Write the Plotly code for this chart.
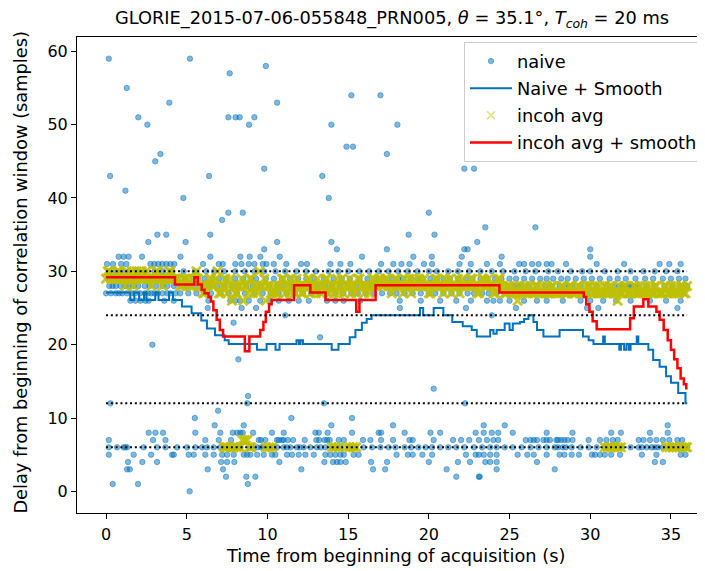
import plotly.graph_objects as go

# ---------------- data ----------------
# naive estimates: delay (samples) -> list of times (s)
naive_by_delay = {
    59: [0.17, 5.2],
    58: [9.9],
    57: [7.66],
    55: [1.28],
    54: [15.2, 17.0],
    53: [3.92, 10.6],
    51: [2.0, 7.58, 8.03, 8.28, 9.19],
    50: [2.56, 8.86, 13.96, 18.05],
    47: [14.9, 15.3],
    46: [3.37, 17.4],
    45: [3.05],
    44: [9.8, 22.2, 22.8],
    43: [0.25, 6.38, 13.4],
    41: [1.2],
    40: [4.79, 13.8],
    38: [7.58, 8.47, 20.0],
    37: [7.19],
    36: [23.5, 26.6],
    35: [3.18, 3.73, 6.46, 18.75, 20.35],
    34: [2.62, 4.93, 10.6, 13.96, 23.0],
    33: [9.8, 14.3, 17.4, 22.2, 22.4, 30.0],
    32: [0.78, 1.09, 1.40, 2.23, 4.61, 6.46, 8.32, 8.90, 9.56, 10.76, 15.86,
         19.04, 20.18, 22.04, 24.51, 30.0],
    31: [0.06, 0.43, 0.93, 1.26, 2.75, 2.99, 3.24, 3.49, 3.74, 3.99, 4.23, 6.01,
         6.98, 7.23, 8.01, 8.39, 8.84, 9.19, 9.71, 9.94, 10.39, 11.17, 12.08,
         12.45, 13.9, 14.52, 15.14, 17.04, 17.8, 18.3, 18.8, 19.7, 20.2, 21.9,
         22.6, 23.6, 24.4, 25.6, 25.9, 26.4, 26.8, 27.3, 27.6, 28.5, 30.4,
         32.1, 34.3, 34.9, 35.6],
    30: [0.2, 0.6, 1.0, 1.4, 1.9, 2.4, 3.0, 3.5, 4.1, 4.8, 5.5, 6.2, 6.7, 7.3,
         8.0, 8.6, 9.2, 9.8, 10.5, 11.1, 11.8, 12.4, 13.0, 13.8, 14.4, 15.0,
         15.7, 16.3, 16.9, 17.5, 18.1, 18.7, 19.3, 20.0, 20.5, 21.2, 21.8, 22.5,
         23.2, 23.9, 24.6, 25.3, 26.0, 26.6, 27.4, 28.0, 28.8, 29.5, 30.0, 30.9,
         31.7, 32.5, 33.3, 34.0, 34.7, 35.4],
    29: [0.1, 0.5, 0.8, 1.1, 1.5, 1.9, 2.2, 2.6, 2.9, 3.3, 3.6, 4.0, 4.4, 4.9,
         5.4, 5.7, 6.1, 6.6, 7.0, 7.4, 8.0, 8.5, 9.0, 9.3, 9.9, 10.4, 10.9, 11.4,
         11.9, 12.4, 12.9, 13.5, 14.1, 14.6, 15.1, 15.7, 16.2, 16.7, 17.2, 17.7,
         18.1, 18.4, 18.9, 19.3, 19.6, 20.1, 20.5, 20.9, 21.3, 21.8, 22.3, 22.7,
         23.2, 23.6, 24.1, 24.5, 25.0, 25.4, 25.9, 26.4, 26.9, 27.3, 27.7, 28.2,
         28.6, 29.1, 29.6, 30.1, 30.6, 31.2, 31.7, 32.2, 32.8, 33.4, 33.9, 34.5,
         35.0, 35.5, 35.9],
    28: [0.2, 0.4, 0.6, 0.9, 1.2, 1.4, 1.7, 2.0, 2.4, 2.7, 3.1, 3.5, 3.8, 4.2,
         4.6, 5.0, 5.5, 6.0, 6.4, 6.9, 7.3, 7.8, 8.2, 8.7, 9.1, 9.6, 10.1, 10.6,
         11.0, 11.5, 12.0, 12.6, 13.1, 13.6, 14.0, 14.5, 15.0, 15.5, 16.0, 16.5,
         17.0, 17.4, 17.9, 18.3, 18.7, 19.2, 19.7, 20.2, 20.6, 21.0, 21.5, 22.0,
         22.4, 22.9, 23.4, 23.9, 24.4, 24.9, 25.3, 25.5, 25.7, 26.2, 26.7, 27.2,
         27.6, 28.1, 28.5, 28.7, 28.9, 29.4, 29.9, 30.4, 31.0, 31.5, 31.8, 32.0,
         32.2, 32.4, 32.6, 32.8, 33.0, 33.5, 34.0, 34.6, 35.1, 35.6, 36.0],
    27: [0.0, 0.3, 0.6, 0.8, 1.0, 1.3, 1.6, 1.8, 2.1, 2.4, 2.6, 2.8, 3.0, 3.2,
         3.5, 3.8, 4.0, 4.3, 4.6, 5.1, 5.6, 6.1, 6.5, 7.1, 7.6, 8.1, 8.6, 9.2,
         9.7, 10.2, 10.7, 11.2, 11.7, 12.2, 12.7, 13.2, 13.7, 14.2, 14.7, 15.2,
         15.6, 16.1, 16.6, 17.1, 17.6, 18.0, 18.5, 19.0, 19.5, 20.0, 20.4, 20.9,
         21.4, 21.9, 22.4, 22.8, 23.3, 23.7, 24.2, 24.7, 25.1, 25.6, 26.0, 26.5,
         27.0, 27.5, 27.9, 28.4, 28.8, 29.3, 29.8, 30.3, 30.8, 31.3, 31.9, 32.4,
         32.9, 33.4, 33.9, 34.4, 34.9, 35.4, 35.8],
    26: [1.51, 1.82, 2.13, 2.44, 2.64, 3.61, 4.19, 6.34, 7.70, 8.01, 8.32, 8.84,
         9.56, 10.18, 10.70, 11.32, 11.94, 12.56, 13.69, 14.21, 14.72, 15.76,
         18.2, 19.5, 20.7, 21.7, 22.6, 23.6, 24.0, 24.4, 25.0, 25.9, 26.7, 27.3,
         28.3, 29.4, 30.0, 30.8, 31.6, 32.5, 33.7, 34.7, 35.6],
    25: [6.3, 8.4, 9.3, 18.2, 22.3, 25.4, 29.8, 30.5, 35.4],
    24: [11.1, 23.9],
    23: [7.9],
    21: [13.26],
    20: [2.87],
    18: [8.2],
    14: [20.3],
    13: [8.8],
    12: [0.28, 8.75, 13.5, 22.25],
    11: [6.94],
    10: [5.5, 11.48, 15.24],
    9: [6.73, 8.53, 13.96, 17.78, 23.4, 24.7, 34.8],
    8: [2.64, 3.06, 3.53, 5.53, 7.08, 7.85, 8.12, 8.32, 8.47, 9.11, 10.28, 11.01,
        12.97, 13.18, 13.73, 15.24, 16.89, 17.04, 18.5, 20.1, 20.7, 22.9, 23.4,
        23.9, 24.3, 25.2, 27.3, 28.9, 31.3, 31.9, 33.7, 34.8],
    7: [0.17, 2.91, 3.68, 6.15, 6.98, 7.74, 9.46, 9.6, 9.87, 10.59, 10.7, 10.90,
        11.0, 11.26, 11.59, 12.31, 13.03, 13.2, 13.53, 13.7, 13.86, 14.42, 14.73,
        15.92, 16.38, 17.04, 17.78, 18.8, 19.0, 20.3, 21.5, 22.0, 22.5, 23.1,
        23.6, 24.0, 24.3, 26.0, 26.3, 26.5, 26.7, 27.1, 27.3, 27.5, 27.9, 28.0,
        28.2, 28.4, 28.6, 28.9, 29.9, 30.6, 31.0, 31.4, 31.7, 33.0, 33.3, 33.7,
        34.1, 34.5, 34.9, 35.4, 35.7],
    6: [0.17, 0.68, 1.09, 1.2, 1.30, 2.33, 3.16, 3.68, 4.40, 5.02, 5.53, 5.95,
        6.26, 6.67, 7.08, 7.50, 8.01, 8.32, 8.94, 9.0, 9.36, 9.6, 9.77, 10.18,
        10.4, 10.59, 11.01, 11.2, 11.42, 11.83, 12.0, 12.25, 12.66, 13.07, 13.3,
        13.59, 14.00, 14.2, 14.52, 15.03, 15.2, 15.45, 15.96, 16.48, 17.0, 17.51,
        17.93, 18.5, 18.9, 19.35, 19.8, 20.2, 20.7, 21.2, 21.7, 22.2, 22.8, 23.3,
        23.8, 24.2, 24.7, 25.2, 25.75, 26.3, 26.8, 27.3, 27.8, 28.0, 28.3, 28.5,
        28.85, 29.4, 29.9, 30.4, 30.9, 31.4, 31.95, 32.5, 33.0, 33.2, 33.5, 33.8,
        34.0, 34.2, 34.5, 35.05, 35.3, 35.6, 36.0],
    5: [0.17, 1.71, 2.79, 4.09, 4.2, 5.12, 5.43, 6.15, 6.67, 7.19, 7.5, 7.91,
        8.53, 8.74, 8.94, 9.36, 9.77, 10.28, 10.49, 11.21, 11.52, 11.94, 12.35,
        12.87, 13.59, 13.90, 14.21, 14.52, 14.73, 15.34, 15.65, 18.0, 18.7, 19.0,
        19.6, 20.2, 22.3, 22.9, 23.1, 23.4, 23.8, 24.2, 25.5, 26.1, 26.5, 27.3,
        28.1, 28.4, 28.85, 29.3, 30.1, 30.3, 30.6, 30.9, 31.3, 31.85, 33.2, 34.1,
        35.6, 35.9],
    4: [1.36, 2.25, 3.16, 7.13, 7.5, 7.95, 10.74, 13.53, 14.06, 14.31, 14.52,
        14.85, 16.42, 17.41, 20.0, 21.8, 22.55, 23.5, 23.8, 24.2, 26.7, 34.0,
        34.5],
    3: [1.30, 1.47, 6.30, 7.25, 12.10, 16.54, 17.29, 21.1, 24.2, 27.8],
    2: [7.43, 8.69, 9.25, 21.7, 23.1, 23.15],
    1: [0.41, 1.98, 8.78],
    0: [5.18],
}

# Naive + Smooth (step function: time where level starts, level)
naive_smooth_t = [0.0, 1.5, 1.75, 2.05, 2.35, 2.5, 3.05, 3.25, 3.9, 4.15, 4.7,
                  5.3, 5.9, 6.25, 6.75, 7.35, 7.6, 9.35, 9.95, 10.5, 10.75,
                  11.8, 11.95, 12.05, 12.2, 13.98, 14.4, 15.1, 15.45, 15.85,
                  16.15, 16.45, 19.45, 19.65, 20.3, 20.9, 21.45, 22.1, 22.66,
                  22.97, 23.8, 24.0, 24.2, 24.7, 25.0, 25.2, 25.65, 25.9, 26.17,
                  26.48, 26.7, 27.1, 28.1, 29.55, 29.9, 30.2, 30.8, 30.9, 31.8,
                  31.9, 32.1, 32.25, 32.4, 32.5, 32.88, 32.98, 33.6, 33.9, 34.3,
                  34.7, 35.0, 35.45, 35.9, 36.0]
naive_smooth_d = [27.1, 26.1, 27.1, 26.1, 27.1, 26.1, 27.1, 26.1, 27.1, 26.1,
                  25.2, 24.3, 23.3, 22.2, 21.3, 20.6, 20.1, 19.3, 20.1, 19.3,
                  20.1, 20.6, 20.1, 20.6, 20.1, 19.3, 20.1, 21.0, 22.0, 23.0,
                  23.5, 24.0, 25.0, 24.0, 25.0, 24.0, 23.1, 22.5, 22.0, 21.1,
                  22.0, 21.5, 22.0, 22.9, 22.0, 22.9, 23.1, 23.5, 24.0, 23.1,
                  22.0, 21.1, 22.0, 21.1, 20.6, 20.1, 21.1, 20.1, 19.3, 20.1,
                  19.3, 20.1, 19.3, 20.1, 21.1, 20.1, 19.3, 17.9, 17.0, 15.7,
                  14.8, 13.4, 12.0, 12.0]

# incoherent average, upper band: one estimate every 0.2 s from t = 0.0 ...
incoh_upper_a_d = [29, 30, 29, 29, 30, 29, 28, 29, 30, 29, 29, 30, 29, 29, 28, 29,
                   30, 29, 29, 29, 30, 29, 29,
                   28, 29, 28, 28, 29, 30, 28, 27, 28, 29,
                   28, 29, 27, 28, 29, 28, 26, 27, 28, 29, 28, 27, 29, 28, 27,
                   28, 29, 28, 27,
                   28, 27, 28, 29, 28, 27, 28, 29, 28,
                   27, 28, 29, 28, 27, 28, 28, 29, 27, 28, 28, 27, 29, 28, 28,
                   27, 28, 29, 28, 27, 28, 28, 29, 28,
                   29, 28, 29, 28, 28, 29, 28, 27, 28, 29, 28, 28, 29, 28, 28,
                   27, 28, 29, 28, 28, 29, 28, 27, 28, 29, 28, 28, 28, 29, 28,
                   27, 28, 29, 28, 28, 27, 28, 29,
                   28, 27, 28, 27, 27, 28, 27, 28, 27, 27, 28, 27, 28, 27, 27,
                   28, 27, 27, 28, 27, 27, 28, 27, 28, 27, 27,
                   27, 28, 27, 27, 28, 27, 27, 28, 27, 27, 28, 27, 28, 27, 27,
                   28, 27, 27, 28, 27, 27, 28, 27, 27, 28, 27, 28, 27, 27, 28,
                   27, 28]
# ... and the interleaved estimates from t = 0.1
incoh_upper_b_d = [30, 29, 29, 30, 29, 29, 30, 29, 28, 30, 29, 29, 30, 29, 29, 30,
                   29, 28, 29, 30, 29, 29,
                   29, 28, 29, 29, 28, 29, 29, 28, 27, 28,
                   29, 28, 30, 27, 28, 27, 29, 28, 27, 28, 26, 28, 29, 27, 28,
                   30, 28, 26, 28, 27,
                   27, 28, 29, 27, 28, 29, 27, 28, 27,
                   28, 29, 27, 28, 29, 27, 28, 29, 28, 27, 29, 28, 27, 28, 29,
                   28, 27, 29, 28, 28, 27, 29, 28, 29,
                   28, 29, 28, 27, 29, 28, 28, 29, 28, 27, 29, 28, 28, 29, 28,
                   27, 28, 29, 28, 27, 28, 29, 28, 28, 27, 29, 28, 28, 29, 28,
                   27, 29, 28, 29, 28, 27, 29, 28,
                   27, 28, 27, 28, 26, 27, 28, 27, 28, 27, 28, 27, 27, 28, 27,
                   28, 27, 27, 28, 27, 28, 27, 27, 28, 27, 28,
                   28, 27, 28, 27, 27, 28, 27, 28, 27, 26, 27, 28, 27, 27, 28,
                   27, 28, 27, 27, 28, 27, 28, 27, 27, 28, 27, 27, 28, 27, 28,
                   27]
incoh_upper_a_t = [round(0.2 * i, 1) for i in range(len(incoh_upper_a_d))]
incoh_upper_b_t = [round(0.1 + 0.2 * i, 1) for i in range(len(incoh_upper_b_d))]
# incoherent average: estimates that fall in the lower band
incoh_lower_t = [7.3, 7.4, 7.5, 7.7, 7.9, 8.1, 8.3, 8.45, 8.6, 8.75, 8.9, 9.0,
                 9.9, 10.1, 10.3, 14.0, 14.2, 14.4, 14.9, 15.1, 15.3, 15.5,
                 30.9, 31.1, 31.3, 31.5, 31.7, 31.9, 34.7, 34.9, 35.1, 35.3,
                 35.5, 35.7, 35.9, 36.0]
incoh_lower_d = [6, 6, 6, 6, 6, 6, 6, 7, 7, 7, 6, 6, 6, 6, 6, 6, 6, 6, 6, 6, 6,
                 6, 6, 6, 6, 6, 6, 6, 6, 6, 6, 6, 6, 6, 6, 6]

# incoh avg + smooth (step function)
incoh_smooth_t = [0.0, 4.27, 5.47, 5.68, 5.93, 6.1, 6.35, 6.5, 6.65, 6.85, 7.05,
                  7.25, 8.6, 8.88, 9.55, 9.75, 9.9, 10.1, 10.26, 11.65, 12.66,
                  13.6, 15.5, 15.7, 16.7, 24.37, 29.6, 29.75, 29.95, 30.15, 30.4,
                  32.47, 32.7, 33.29, 33.6, 34.1, 34.3, 34.55, 34.8, 35.0, 35.2,
                  35.4, 35.6, 35.8, 35.95]
incoh_smooth_d = [29.2, 28.2, 29.2, 28.2, 27.5, 27.0, 26.5, 25.9, 24.7, 23.4,
                  22.0, 21.1, 19.1, 21.1, 22.0, 23.1, 24.5, 25.5, 26.1, 28.1,
                  27.1, 26.1, 24.5, 26.1, 28.1, 27.1, 26.5, 25.5, 24.5, 23.2,
                  22.1, 23.6, 25.2, 26.2, 25.2, 24.5, 23.4, 22.0, 20.6, 19.3,
                  18.0, 16.8, 15.4, 14.6, 13.9]

ref_levels = [30, 24, 12, 6]
ref_t_span = [0, 36]

title_text = ("GLORIE_2015-07-06-055848_PRN005, <i>θ</i> = 35.1°, "
              "<i>T</i><sub><i>coh</i></sub> = 20 ms")
x_label = "Time from beginning of acquisition (s)"
y_label = "Delay from beginning of correlation window (samples)"
x_ticks = [0, 5, 10, 15, 20, 25, 30, 35]
y_ticks = [0, 10, 20, 30, 40, 50, 60]

# ---------------- figure ----------------
naive_t, naive_d = [], []
for d, ts in naive_by_delay.items():
    for t in ts:
        naive_t.append(t)
        naive_d.append(d)

incoh_t = incoh_upper_a_t + incoh_upper_b_t + incoh_lower_t
incoh_d = incoh_upper_a_d + incoh_upper_b_d + incoh_lower_d

# the page body has an 8 px margin; figure is sized so that it fills the window
W, H = 697, 563
ML, MR, MT, MB = 69, 0, 29, 58
PW, PH = W - ML - MR, H - MT - MB

FONT = "DejaVu Sans"
YELLOW = "rgba(191,191,0,0.85)"
fig = go.Figure()
fig.add_trace(go.Scatter(
    x=naive_t, y=naive_d, mode="markers", name="naive",
    legendgroup="a",
    marker=dict(symbol="circle", size=5.5, color="rgba(0,114,189,0.5)",
                line=dict(color="rgba(0,114,189,0.5)", width=0.9))))
fig.add_trace(go.Scatter(
    x=naive_smooth_t, y=naive_smooth_d, mode="lines", name="Naive + Smooth",
    legendgroup="b", line=dict(color="#0072bd", width=2, shape="hv")))
fig.add_trace(go.Scatter(
    x=incoh_t, y=incoh_d, mode="markers", name="incoh avg",
    legendgroup="c", showlegend=False,
    marker=dict(symbol="x-thin", size=9, line=dict(color=YELLOW, width=2.8))))
# legend entry for incoh avg (pale, like the reference legend)
fig.add_trace(go.Scatter(
    x=[None], y=[None], mode="markers", name="incoh avg", legendgroup="c",
    marker=dict(symbol="x-thin", size=8,
                line=dict(color="rgba(191,191,0,0.45)", width=1.6))))
fig.add_trace(go.Scatter(
    x=incoh_smooth_t, y=incoh_smooth_d, mode="lines",
    name="incoh avg + smooth", legendgroup="d",
    line=dict(color="#ff0000", width=2.5, shape="hv")))
for lvl in ref_levels:
    fig.add_trace(go.Scatter(
        x=ref_t_span, y=[lvl, lvl], mode="lines", showlegend=False,
        hoverinfo="skip",
        line=dict(color="black", width=2, dash="2px,2.8px")))

fig.update_layout(
    width=W, height=H,
    margin=dict(l=ML, r=MR, t=MT, b=MB, autoexpand=False),
    paper_bgcolor="white", plot_bgcolor="white",
    font=dict(family=FONT, size=16, color="black"),
    title=dict(text=title_text, x=384 / W, xanchor="center", xref="container",
               y=1 - 10 / H, yanchor="middle", yref="container",
               font=dict(family=FONT, size=17.8, color="black")),
    legend=dict(x=(695 - ML) / PW, xanchor="right",
                y=1 - (34 - MT) / PH, yanchor="top",
                bgcolor="rgba(255,255,255,0.8)", bordercolor="#cccccc",
                borderwidth=1, font=dict(family=FONT, size=17.8),
                traceorder="grouped", tracegroupgap=1, itemwidth=42),
    showlegend=True,
)
fig.update_xaxes(range=[-1.8, 37.11], tickvals=x_ticks, ticks="outside",
                 ticklen=5, tickwidth=1, tickcolor="black", showline=True,
                 linecolor="black", linewidth=1, mirror=True, showgrid=False,
                 zeroline=False, tickfont=dict(size=16), ticklabelstandoff=2)
fig.update_yaxes(range=[-2.95, 61.95], tickvals=y_ticks, ticks="outside",
                 ticklen=5, tickwidth=1, tickcolor="black", showline=True,
                 linecolor="black", linewidth=1, mirror=False, showgrid=False,
                 zeroline=False, tickfont=dict(size=16))
fig.add_annotation(text=x_label, xref="paper", yref="paper",
                   x=(387 - ML) / PW, y=-(547 - (H - MB)) / PH,
                   xanchor="center", yanchor="middle",
                   showarrow=False, font=dict(family=FONT, size=17.8))
fig.add_annotation(text=y_label, xref="paper", yref="paper",
                   x=(13 - ML) / PW, y=0.505, xanchor="center",
                   yanchor="middle", textangle=-90,
                   showarrow=False, font=dict(family=FONT, size=17.8))

fig.write_html("out.html")
